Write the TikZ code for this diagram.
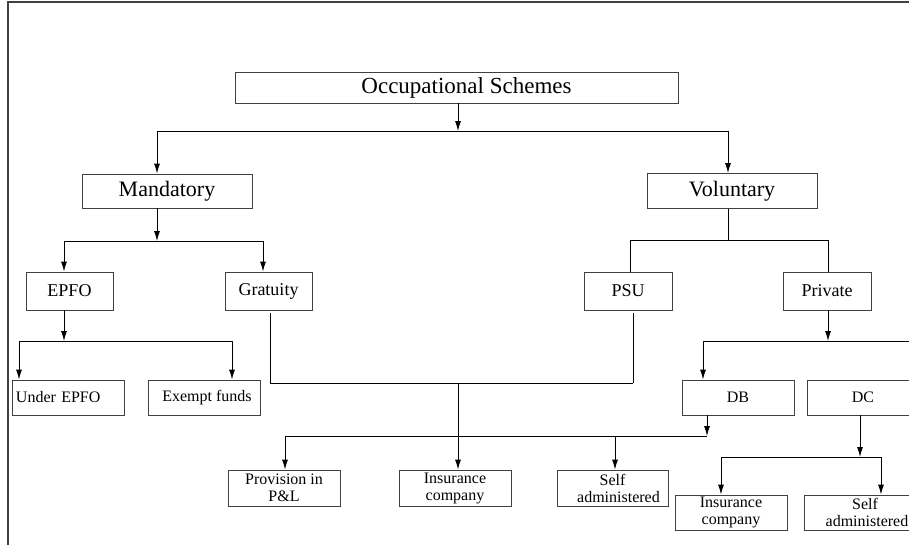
\documentclass[tikz,border=0pt]{standalone}
\usepackage{fontspec}
\setmainfont{Liberation Serif}
\usetikzlibrary{arrows.meta}

\begin{document}
\begin{tikzpicture}[x=1pt, y=-1pt,
  schemebox/.style={draw=black!75, line width=0.9pt, inner sep=0pt, align=center},
  link/.style={draw=black, line width=0.9pt},
  arr/.style={link, -{Latex[length=10pt,width=6pt]}},
  lvlone/.style={font=\fontsize{23}{25}\selectfont},
  lvltwo/.style={font=\fontsize{22}{24}\selectfont},
  lvlthree/.style={font=\fontsize{18}{20}\selectfont},
  lvlfour/.style={font=\fontsize{16}{17}\selectfont}]
\useasboundingbox (0,0) rectangle (909,544);
\clip (0,0) rectangle (909,544);
% frame of the figure
\draw[black!75, line width=1.3pt] (8,546) -- (8,2) -- (911,2);

% top levels
\node[schemebox, lvlone, minimum width=443pt, minimum height=31pt] (occ) at (456.5,87.5) {\hspace*{20pt}Occupational Schemes};
\node[schemebox, lvltwo, minimum width=170pt, minimum height=34pt] (mand) at (167,191) {Mandatory};
\node[schemebox, lvltwo, minimum width=170pt, minimum height=35pt] (vol) at (732,191) {Voluntary};

% third level
\node[schemebox, lvlthree, minimum width=87pt, minimum height=38pt] (epfo) at (69.5,291) {EPFO};
\node[schemebox, lvlthree, minimum width=87pt, minimum height=38pt] (grat) at (268.5,291) {Gratuity};
\node[schemebox, lvlthree, minimum width=88pt, minimum height=38pt] (psu) at (628,291) {PSU};
\node[schemebox, lvlthree, minimum width=88pt, minimum height=38pt] (priv) at (827,291) {Private};

% fourth level
\node[schemebox, lvlfour, minimum width=112pt, minimum height=35pt, inner xsep=4pt, text width=104pt, align=left] (undr) at (68,397.5) {Under EPFO};
\node[schemebox, lvlfour, minimum width=112pt, minimum height=35pt] (exmp) at (204,397.5) {\hspace*{6pt}Exempt funds};
\node[schemebox, lvlfour, minimum width=112pt, minimum height=35pt] (db) at (738,397.5) {DB};
\node[schemebox, lvlfour, minimum width=112pt, minimum height=35pt] (dc) at (863,397.5) {DC};

% funding vehicles
\node[schemebox, lvlfour, minimum width=112pt, minimum height=36pt] (prov) at (284,488) {Provision in\\P\&L};
\node[schemebox, lvlfour, minimum width=112pt, minimum height=36pt] (ins) at (455,488) {Insurance\\company};
\node[schemebox, lvlfour, minimum width=111pt, minimum height=36pt] (self) at (612.5,488) {Self\\\hspace*{12pt}administered};
\node[schemebox, lvlfour, minimum width=112pt, minimum height=35pt] (insb) at (731,512.5) {Insurance\\company};
\node[schemebox, lvlfour, minimum width=112pt, minimum height=35pt] (selfb) at (860,512.5) {\hspace*{10pt}Self\\\hspace*{14pt}administered};

% junctions
\coordinate (jtop) at (458,131);
\coordinate (jtl) at (157,131);
\coordinate (jtr) at (728,131);
\coordinate (jmand) at (157,241);
\coordinate (jml) at (64,241);
\coordinate (jmr) at (263,241);
\coordinate (jvol) at (728,240);
\coordinate (jvl) at (630,240);
\coordinate (jvr) at (828,240);
\coordinate (jepfo) at (64,341);
\coordinate (jel) at (19,341);
\coordinate (jer) at (232,341);
\coordinate (jgrat) at (270,383);
\coordinate (jpsu) at (633,383);
\coordinate (jmid) at (458,383);
\coordinate (jdb) at (707,436);
\coordinate (jdl) at (285,436);
\coordinate (jds) at (615,436);
\coordinate (jpriv) at (828,341);
\coordinate (jpl) at (703,341);
\coordinate (jpr) at (912,341);
\coordinate (jdc) at (860,457);
\coordinate (jcl) at (721,457);
\coordinate (jcr) at (881,457);

% occupational schemes
\draw[arr] (occ.south -| jtop) -- (jtop);
\draw[link] (jtl) -- (jtr);
\draw[arr] (jtl) -- (jtl |- mand.north);
\draw[arr] (jtr) -- (jtr |- vol.north);

% mandatory
\draw[arr] (mand.south -| jmand) -- (jmand);
\draw[link] (jml) -- (jmr);
\draw[arr] (jml) -- (jml |- epfo.north);
\draw[arr] (jmr) -- (jmr |- grat.north);

% voluntary
\draw[link] (vol.south -| jvol) -- (jvol);
\draw[link] (jvl |- psu.north) -- (jvl) -- (jvr) -- (jvr |- priv.north);

% epfo
\draw[arr] (epfo.south -| jepfo) -- (jepfo);
\draw[link] (jel) -- (jer);
\draw[arr] (jel) -- (jel |- undr.north);
\draw[arr] (jer) -- (jer |- exmp.north);

% gratuity and psu
\draw[link, shorten <=3pt] (grat.south -| jgrat) -- (jgrat) -- (jpsu);
\draw[link, shorten <=3pt] (psu.south -| jpsu) -- (jpsu);
\draw[arr] (jmid) -- (jmid |- ins.north);

% db
\draw[arr] (db.south -| jdb) -- (jdb);
\draw[link] (jdl) -- (jdb);
\draw[arr] (jdl) -- (jdl |- prov.north);
\draw[arr] (jds) -- (jds |- self.north);

% private
\draw[arr] (priv.south -| jpriv) -- (jpriv);
\draw[link] (jpl) -- (jpr);
\draw[arr] (jpl) -- (jpl |- db.north);

% dc
\draw[arr] (dc.south -| jdc) -- (jdc);
\draw[link] (jcl) -- (jcr);
\draw[arr] (jcl) -- (jcl |- insb.north);
\draw[arr] (jcr) -- (jcr |- selfb.north);
\end{tikzpicture}
\end{document}
